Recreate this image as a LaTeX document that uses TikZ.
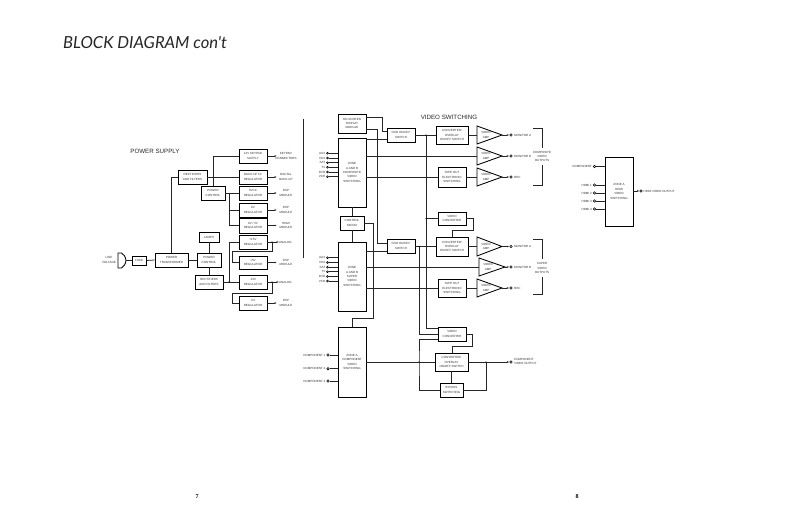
\documentclass[tikz,border=0pt]{standalone}
\usepackage{fontspec}
\setmainfont{Liberation Sans}
\newfontfamily\titlefont{Lato}
\newfontfamily\pagefont{Liberation Serif}
\usetikzlibrary{arrows.meta}
\tikzset{
  x=1pt,y=-1pt,
  wire/.style={line width=0.75pt,draw=black!85},
  tipped/.style={wire,-{Latex[length=2.4pt,width=1.8pt]}},
  boxnode/.style={draw=black,line width=0.85pt,fill=white,inner sep=0pt,align=center,font=\fontsize{3}{4.4}\selectfont,text=black!80},
  lbl/.style={inner sep=0pt,align=center,font=\fontsize{3}{4.4}\selectfont,text=black!80},
  lblr/.style={lbl,anchor=east},
  lbll/.style={lbl,anchor=west,align=left},
  term/.style={circle,draw=black,line width=0.6pt,fill=white,inner sep=0pt,minimum size=2.4pt},
  dot/.style={circle,fill=black,inner sep=0pt,minimum size=1.4pt},
  head/.style={inner sep=0pt,font=\fontsize{6.2}{7}\selectfont,text=black!85},
  rule/.style={line width=0.85pt,draw=black!85},
}
\newcommand{\bx}[6]{\node[boxnode,minimum width={(#4)-(#2)},minimum height={(#5)-(#3)}] (#1) at ({((#2)+(#4))/2},{((#3)+(#5))/2}) {#6};}
\newcommand{\ampl}[5]{%
  \coordinate (#1-in) at (#2,{((#3)+(#5))/2});
  \coordinate (#1-out) at (#4,{((#3)+(#5))/2});
  \draw[line width=0.85pt,draw=black,fill=white,line join=miter] (#2,#3) -- (#4,{((#3)+(#5))/2}) -- (#2,#5) -- cycle;
  \node[lbl] (#1-t) at ({(#2)+9},{((#3)+(#5))/2}) {VIDEO\\AMP};}
\begin{document}
\begin{tikzpicture}
\useasboundingbox (0,0) rectangle (793,513);
\fill[white] (0,0) rectangle (793,513);
% headings
\node[anchor=west,inner sep=0pt,font=\fontsize{16.6}{18}\selectfont\titlefont\itshape,text=black!85] (title) at (63,43) {BLOCK DIAGRAM con't};
\node[head] (ps) at (155,151) {POWER SUPPLY};
\node[head] (vs) at (449,117) {VIDEO SWITCHING};
\node[inner sep=0pt,font=\fontsize{6}{7}\selectfont\pagefont\bfseries] (p7) at (197,497) {7};
\node[inner sep=0pt,font=\fontsize{6}{7}\selectfont\pagefont\bfseries] (p8) at (577,497) {8};
\coordinate (sepa) at (303,119); \coordinate (sepb) at (303,258);
\draw[rule] (sepa) -- (sepb);

% ---------- power supply ----------
\bx{kp}{239}{149}{267}{163}{12V KEYPAD\\SUPPLY}
\bx{bu}{239}{170}{267}{184}{BACK-UP 5V\\REGULATOR}
\bx{rt}{178}{170}{207}{184}{RECTIFIERS\\AND FILTERS}
\bx{pt}{201}{186}{225}{200}{POWER\\CONTROL}
\bx{r5}{239}{186}{267}{200}{5VCC\\REGULATOR}
\bx{r9}{239}{203}{267}{217}{9V\\REGULATOR}
\bx{r8}{239}{218}{267}{233}{8V / 5V\\REGULATOR}
\bx{p15}{239}{235}{267}{249}{+15V\\REGULATOR}
\bx{p5}{239}{256}{267}{269}{+5V\\REGULATOR}
\bx{m15}{239}{275}{267}{289}{-15V\\REGULATOR}
\bx{m5}{239}{296}{267}{310}{-5V\\REGULATOR}
\bx{lamps}{199}{232}{219}{242}{LAMPS}
\bx{pc}{197}{253}{221}{267}{POWER\\CONTROL}
\bx{rb}{195}{275}{223}{289}{RECTIFIERS\\AND FILTERS}
\bx{xf}{155}{253}{188}{267}{POWER\\TRANSFORMER}
\bx{fuse}{132}{256}{146}{265}{FUSE}
\node[lbl] (lv) at (109,260) {LINE\\VOLTAGE};
\coordinate (plugw) at (118,253);
\coordinate (pluge) at (126,260.5);
\draw[line width=0.85pt,fill=white] (plugw) -- (121.5,253) .. controls (124,254) and (125.5,257) .. (pluge) .. controls (125.5,264) and (124,266.5) .. (121.5,268) -- (118,268) -- cycle;
\draw[wire] (pluge) -- (fuse.west);
\draw[wire] (fuse.east) -- (xf.west);
\draw[wire] (xf.east) -- (pc.west);
\draw[wire] (pc.north) -- (lamps.south);
\draw[wire] (pc.south) -- (rb.north);
\draw[wire] (xf.north -| 171.5,0) |- (rt.west);
\draw[wire] (rt.east) -- (bu.west);
\draw[wire] (pt.north) |- (kp.west);
\draw[wire] (pt.east) -- (r5.west);
\coordinate (ja) at (229,193);
\draw[wire] (ja) |- (r8.west);
\draw[wire] (ja |- r9.west) -- (r9.west);
\draw[wire] (rb.east) -- (m15.west);
\coordinate (jc) at (229,282);
\draw[wire] (jc) |- (p15.west);
% regulator cross-feeds
\coordinate (lp1) at (272,242);
\coordinate (lp3) at (232,251);
\coordinate (ln1) at (272,282);
\coordinate (ln3) at (232,293);
\draw[wire] (lp1) |- (lp3) |- (p5.west);
\draw[wire] (ln1) |- (ln3) |- (m5.west);
% outputs
\foreach \n/\l in {kp/{KEYPAD\\CONNECTORS},bu/{DIGITAL\\BACK-UP},r5/{DSP\\MODULE},r9/{DSP\\MODULE},r8/{HDMI\\MODULE},p5/{DSP\\MODULE},m5/{DSP\\MODULE}}{
  \draw[tipped] (\n.east) -- ++(9.5,0);
  \node[lbl] (\n-lab) at ([xshift=18.5pt]\n.east) {\l};
}
\node[lbll] (anaa) at (279,242) {ANALOG};
\node[lbll] (anab) at (279,282) {ANALOG};
\draw[tipped] (p15.east) -- (anaa.west);
\draw[tipped] (m15.east) -- (anab.west);
\node[dot] (dp) at (lp1) {};
\node[dot] (dn) at (ln1) {};
\node[dot] (dj) at (jc) {};

% ---------- video: boxes ----------
\bx{osd}{338}{114}{366}{133}{ON SCREEN\\DISPLAY\\MODULE}
\bx{zc}{338}{138}{366}{207}{ZONE\\A AND B\\COMPOSITE\\VIDEO\\SWITCHING}
\bx{sw1}{387}{128}{415}{142}{OSD ON/OFF\\SWITCH}
\bx{micro}{340}{216}{364}{230}{CONTROL\\MICRO}
\bx{zs}{338}{242}{366}{311}{ZONE\\A AND B\\SUPER\\VIDEO\\SWITCHING}
\bx{sw2}{387}{239}{415}{253}{OSD ON/OFF\\SWITCH}
\bx{zk}{338}{327}{366}{397}{ZONE A\\COMPONENT\\VIDEO\\SWITCHING}
\bx{c1b}{436}{126}{468}{144}{CONVERTER/\\OVERLAY\\ON/OFF SWITCH}
\bx{t1}{438}{167}{466}{187}{TAPE OUT\\ELECTRONIC\\SWITCHING}
\bx{vc1}{438}{212}{466}{225.5}{VIDEO\\CONVERTER}
\bx{c2b}{436}{237}{468}{256}{CONVERTER/\\OVERLAY\\ON/OFF SWITCH}
\bx{t2}{438}{279}{466}{297}{TAPE OUT\\ELECTRONIC\\SWITCHING}
\bx{vc2}{438}{327}{466}{341}{VIDEO\\CONVERTER}
\bx{c3b}{435}{353}{468}{371}{CONVERTER/\\OVERLAY\\ON/OFF SWITCH}
\bx{by}{440}{383}{463}{397}{BYPASS\\SWITCHING}
\bx{zh}{605}{157}{633}{226}{ZONE A\\HDMI\\VIDEO\\SWITCHING}

\ampl{a1}{477}{126}{502}{144}
\ampl{a2}{477}{147}{502}{165}
\ampl{a3}{477}{168}{502}{186}
\ampl{b1}{477}{237}{502}{256}
\ampl{b2}{479}{258}{505}{276}
\ampl{b3}{477}{279}{502}{297}

% ---------- video: connectors ----------
\coordinate (v1) at (426,135);
\coordinate (v3) at (419,246.5);
\coordinate (v7) at (419,362);
\coordinate (e1) at (486,362);
\coordinate (m3) at (352,318);
\draw[wire] (osd.east |- 0,117) -| (382,131) -- (sw1.west |- 0,131);
\draw[wire] (osd.east |- 0,129) -| (377,243) -- (sw2.west |- 0,243);
\draw[wire] (zc.east |- 0,139.5) -- (sw1.west |- 0,139.5);
\draw[wire] (sw1.east |- v1) -- (c1b.west |- v1);
\draw[wire] (v1) |- (vc2.west |- 0,328);
\draw[wire] (v1 |- vc1.west) -- (vc1.west);
\draw[wire] (zc.east |- a2-in) -- (a2-in);
\draw[wire] (zc.east |- t1.west) -- (t1.west);
\draw[wire] (zs.east |- 0,251) -- (sw2.west |- 0,251);
\draw[wire] (sw2.east |- v3) -- (c2b.west |- v3);
\draw[wire] (v3) |- (vc2.west);
\draw[wire] (zs.east |- b2-in) -- (b2-in);
\draw[wire] (zs.east |- t2.west) -- (t2.west);
\draw[wire] (vc1.east) -| (473,230) -| (c2b.north -| 452,0);
\draw[wire] (vc2.east) -| (472,346) -| (c3b.north -| 452,0);
\draw[wire] (micro.east) -| (373,318) -- (m3) -- (zk.north -| m3);
\draw[wire] (zc.south -| micro.north) -- (micro.north);
\draw[wire] (micro.south) -- (zs.north -| micro.south);
\draw[wire] (zk.east |- v7) -- (c3b.west |- v7);
\draw[wire] (vc2.west |- 0,339) -| (v7) |- (by.west);
\draw[wire] (c3b.south -| by.north) -- (by.north);
\draw[wire] (by.east) -| (e1);
\draw[wire] (c1b.east |- a1-in) -- (a1-in);
\draw[wire] (t1.east |- a3-in) -- (a3-in);
\draw[wire] (c2b.east |- b1-in) -- (b1-in);
\draw[wire] (t2.east |- b3-in) -- (b3-in);
\draw[wire] (c3b.east |- e1) -- (e1);
\node[dot] (dv1) at (v1 |- vc1.west) {};
\node[dot] (dv2) at (v3) {};
\node[dot] (dv3) at (v7) {};
\node[dot] (dv4) at (e1) {};
\node[dot] (dv5) at (v1) {};

% outputs of the amplifiers
\foreach \n/\l in {a1/MONITOR A,a2/MONITOR B,a3/REC,b1/MONITOR A,b2/MONITOR B,b3/REC}{
  \node[term] (\n-o) at (511,0 |- \n-out) {};
  \draw[tipped,shorten >=0.2pt] (\n-out) -- (\n-o);
  \node[lbll] (\n-l) at ([xshift=3pt]\n-o.center) {\l};
}
\node[term] (co) at (511,362) {};
\draw[tipped] (e1) -- (co);
\node[lbll] (col) at (514,361.5) {COMPONENT\\VIDEO OUTPUT};

% output brackets
\draw[rule] (533,128) -- (542,128) -- (542,148);
\draw[rule] (542,165) -- (542,185) -- (533,185);
\node[lbl] (bc) at (542,156.5) {COMPOSITE\\VIDEO\\OUTPUTS};
\draw[rule] (533,239) -- (542,239) -- (542,259);
\draw[rule] (542,277) -- (542,294) -- (533,294);
\node[lbl] (bs) at (542,268) {SUPER\\VIDEO\\OUTPUTS};

% inputs
\foreach \i/\y/\l in {1/153.3/AUX,2/158/CD2,3/162.7/SAT,4/167.3/TV,5/172/DVD,6/176.7/VCR}{
  \node[term,minimum size=2pt] (ci\i) at (327.5,\y) {};
  \draw[wire] (ci\i) -- (zc.west |- ci\i);
  \node[lblr] (cl\i) at (325.5,\y) {\l};
}
\foreach \i/\y/\l in {1/257.8/AUX,2/262.5/CD2,3/267.2/SAT,4/271.8/TV,5/276.5/DVD,6/281/VCR}{
  \node[term,minimum size=2pt] (si\i) at (327.5,\y) {};
  \draw[wire] (si\i) -- (zs.west |- si\i);
  \node[lblr] (sl\i) at (325.5,\y) {\l};
}
\foreach \i/\y/\l in {1/355/COMPONENT 1,2/368.7/COMPONENT 2,3/381/COMPONENT 3}{
  \node[term] (ki\i) at (328,\y) {};
  \draw[wire] (ki\i) -- (zk.west |- ki\i);
  \node[lblr] (kl\i) at (325.5,\y) {\l};
}
\foreach \i/\y/\l in {1/166.5/COMPONENT,2/185/HDMI 1,3/193/HDMI 2,4/201/HDMI 3,5/209/HDMI 4}{
  \node[term] (hi\i) at (594.5,\y) {};
  \draw[wire] (hi\i) -- (zh.west |- hi\i);
  \node[lblr] (hl\i) at (592,\y) {\l};
}
\node[term] (ho) at (641,191) {};
\draw[tipped] (zh.east |- ho) -- (ho);
\node[lbll] (hol) at (643.5,191) {HDMI VIDEO OUTPUT};
\end{tikzpicture}
\end{document}
